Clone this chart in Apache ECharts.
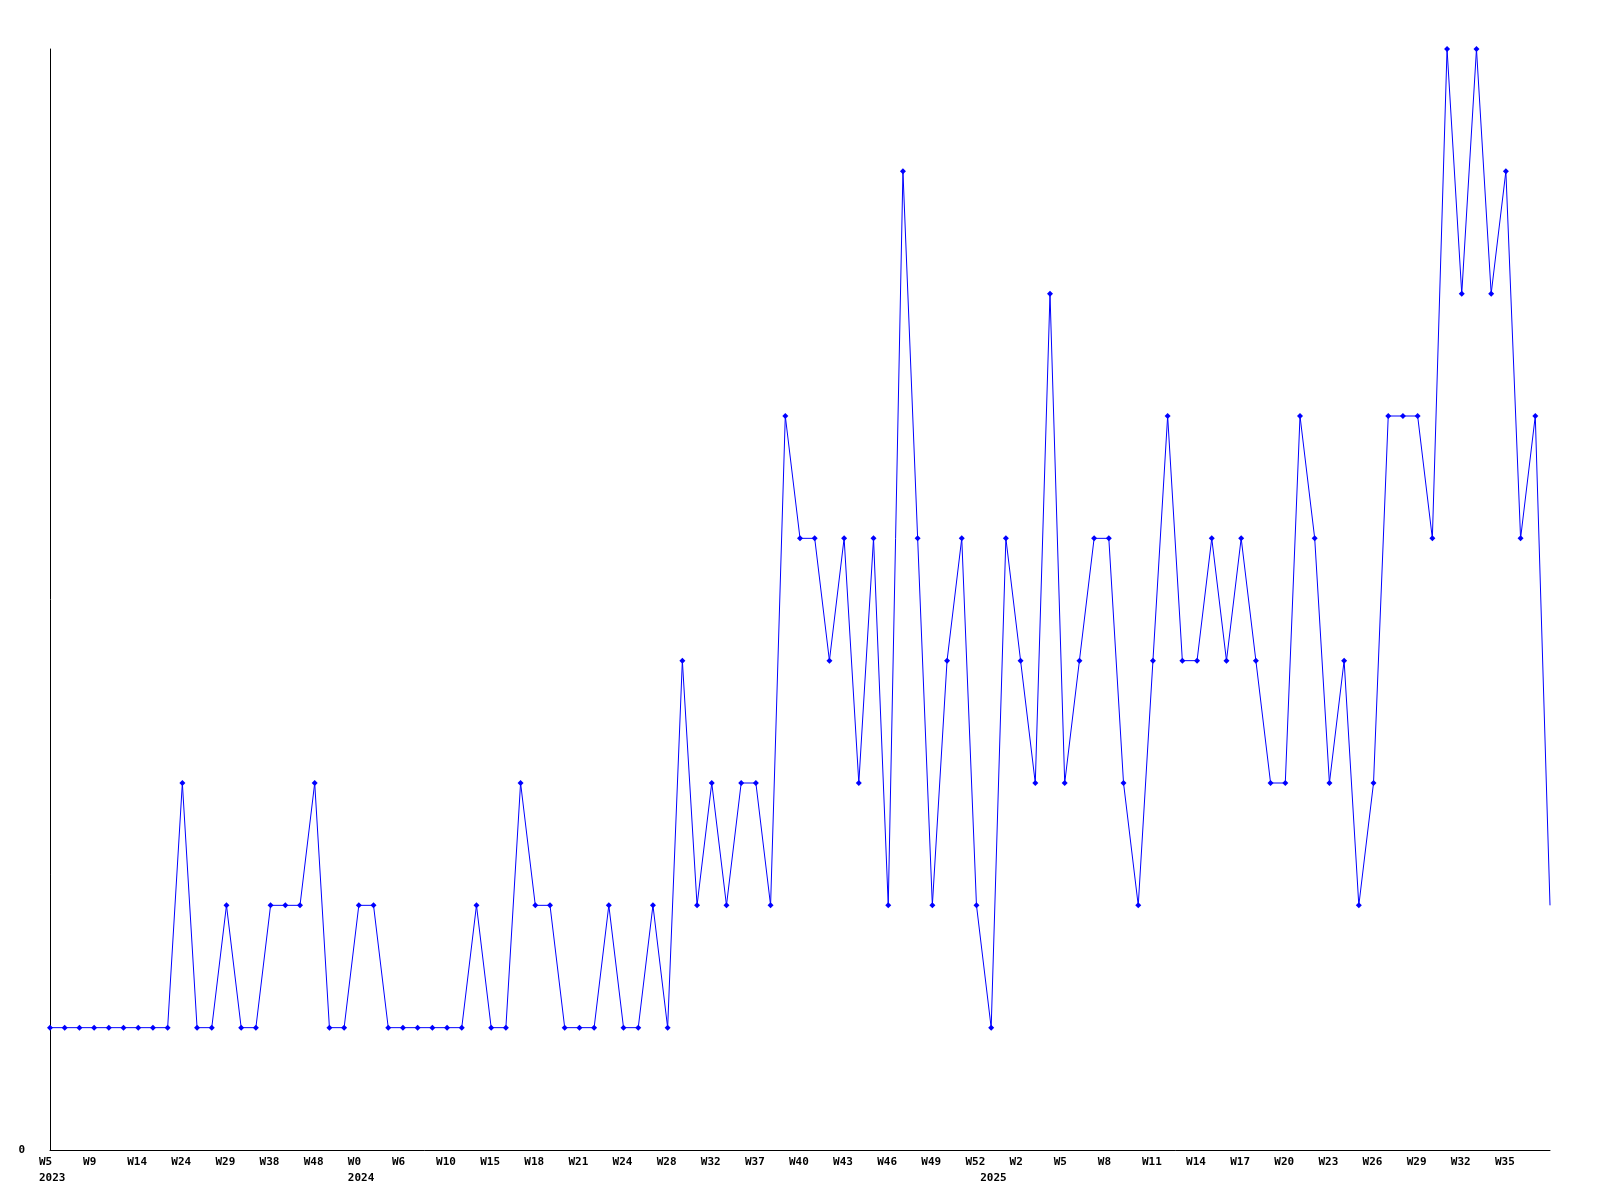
<!DOCTYPE html>
<html>
<head>
<meta charset="utf-8">
<script src="https://cdn.jsdelivr.net/npm/echarts@6/dist/echarts.min.js"></script>
<style>
html,body{margin:0;padding:0;background:#fff;}
#chart{width:1600px;height:1200px;}
</style>
</head>
<body>
<div id="chart"></div>
<script>
// Weekly counts, one per point
const values = [
  1,1,1,1,1,1,1,1,1,3,
  1,1,2,1,1,2,2,2,3,1,
  1,2,2,1,1,1,1,1,1,2,
  1,1,3,2,2,1,1,1,2,1,
  1,2,1,4,2,3,2,3,3,2,
  6,5,5,4,5,3,5,2,8,5,
  2,4,5,2,1,5,4,3,7,3,
  4,5,5,3,2,4,6,4,4,5,
  4,5,4,3,3,6,5,3,4,2,
  3,6,6,6,5,9,7,9,7,8,
  5,6,2
];
// Week tick labels, shown on every third point
const weekTicks = ['W5','W9','W14','W24','W29','W38','W48','W0','W6','W10','W15','W18','W21','W24','W28','W32','W37','W40','W43','W46','W49','W52','W2','W5','W8','W11','W14','W17','W20','W23','W26','W29','W32','W35'];
const tickStep = 3;
// Year labels and the point index where each starts
const yearTicks = ['2023','2024','2025'];
const yearTickIndex = [0, 21, 64];
const yMin = 0, yMax = 9;

const categories = values.map((v, i) => String(i));
const lastIdx = values.length - 1;

const labelFont = {
  fontFamily: 'DejaVu Sans Mono',
  fontWeight: 'bold',
  fontSize: 11,
  color: '#000'
};

const chart = echarts.init(document.getElementById('chart'), null, {renderer: 'canvas'});
chart.setOption({
  animation: false,
  backgroundColor: '#fff',
  grid: {left: 50, right: 50, top: 49, bottom: 50, containLabel: false},
  xAxis: [
    {
      type: 'category',
      data: categories,
      boundaryGap: false,
      position: 'bottom',
      axisLine: {show: true, lineStyle: {color: '#000', width: 1}},
      axisTick: {show: false},
      splitLine: {show: false},
      axisLabel: Object.assign({
        interval: tickStep - 1,
        align: 'left',
        padding: [0, 0, 0, -11],
        margin: 7,
        formatter: (v, i) => weekTicks[Math.round(i / tickStep)] || ''
      }, labelFont)
    },
    {
      type: 'category',
      data: categories,
      boundaryGap: false,
      position: 'bottom',
      offset: 16,
      axisLine: {show: false},
      axisTick: {show: false},
      splitLine: {show: false},
      axisLabel: Object.assign({
        interval: (i) => yearTickIndex.indexOf(i) >= 0,
        align: 'left',
        padding: [0, 0, 0, -11],
        margin: 7,
        formatter: (v, i) => {
          const k = yearTickIndex.indexOf(i);
          return k >= 0 ? yearTicks[k] : '';
        }
      }, labelFont)
    }
  ],
  yAxis: {
    type: 'value',
    min: yMin,
    max: yMax,
    interval: yMax,
    axisLine: {show: true, lineStyle: {color: '#000', width: 1}},
    axisTick: {show: false},
    splitLine: {show: false},
    axisLabel: Object.assign({
      margin: 25,
      padding: [2, 0, 0, 0],
      formatter: (v) => v === yMin ? String(yMin) : ''
    }, labelFont)
  },
  series: [{
    type: 'line',
    xAxisIndex: 0,
    data: values,
    symbol: 'diamond',
    symbolSize: (v, p) => p.dataIndex === lastIdx ? 0 : 6,
    showAllSymbol: true,
    lineStyle: {color: '#0000ff', width: 1},
    itemStyle: {color: '#0000ff'},
    emphasis: {disabled: true}
  }]
});
</script>
</body>
</html>
